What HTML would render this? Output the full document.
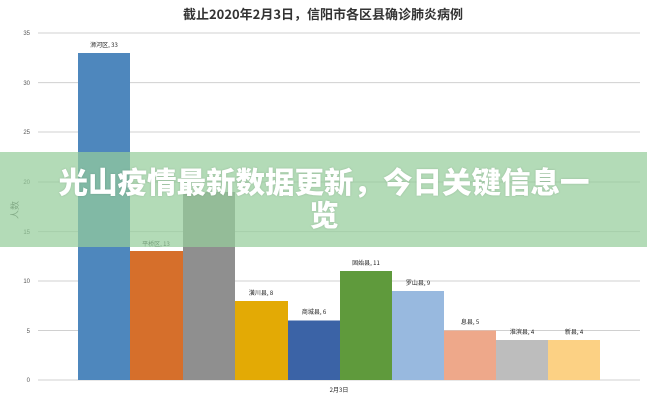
<!DOCTYPE html>
<html><head><meta charset="utf-8"><style>
body{margin:0;width:647px;height:400px;overflow:hidden;background:#fff;font-family:"Liberation Sans","Noto Sans CJK SC",sans-serif;}
.ban{position:absolute;left:0;top:152px;width:647px;height:95px;background:rgba(150,205,155,0.72);}
.bt{position:absolute;left:50px;top:165px;width:548px;text-align:center;color:#fff;font-weight:900;font-size:29.5px;line-height:33px;font-family:"Noto Sans CJK SC",sans-serif;text-shadow:0 0 2px rgba(0,0,0,0.15);}
</style></head><body>
<svg width="647" height="400" style="position:absolute;left:0;top:0" font-family="Liberation Sans,Noto Sans CJK SC,sans-serif">
<text x="323" y="19" text-anchor="middle" font-size="13" font-weight="bold" fill="#333" font-family="Noto Sans CJK SC,sans-serif">截止2020年2月3日，信阳市各区县确诊肺炎病例</text>
<g stroke="#d0d0d0" stroke-width="1">
<line x1="38" x2="640" y1="33" y2="33"/><line x1="38" x2="640" y1="82.6" y2="82.6"/><line x1="38" x2="640" y1="132" y2="132"/><line x1="38" x2="640" y1="182" y2="182"/><line x1="38" x2="640" y1="231.6" y2="231.6"/><line x1="38" x2="640" y1="281" y2="281"/><line x1="38" x2="640" y1="330.5" y2="330.5"/><line x1="38" x2="640" y1="380" y2="380"/>
</g>
<g font-size="6" fill="#555" text-anchor="end">
<text x="30" y="35">35</text><text x="30" y="85">30</text><text x="30" y="134">25</text><text x="30" y="184">20</text><text x="30" y="234">15</text><text x="30" y="283">10</text><text x="30" y="333">5</text><text x="30" y="382">0</text>
</g>
<text x="18" y="210" font-size="9" fill="#555" transform="rotate(-90 18 210)" text-anchor="middle">人数</text>
<rect x="78" y="53" width="52" height="327" fill="#4e87bd"/>
<rect x="130" y="251" width="53" height="129" fill="#d66f2b"/>
<rect x="183" y="192" width="52" height="188" fill="#8f8f8f"/>
<rect x="235" y="301" width="53" height="79" fill="#e3aa05"/>
<rect x="288" y="320.5" width="52" height="59.5" fill="#3b63a6"/>
<rect x="340" y="271" width="52" height="109" fill="#5f9a3c"/>
<rect x="392" y="291" width="52" height="89" fill="#98b9df"/>
<rect x="444" y="330.5" width="52" height="49.5" fill="#eea88a"/>
<rect x="496" y="340" width="52" height="40" fill="#bdbdbd"/>
<rect x="548" y="340" width="52" height="40" fill="#fcd184"/>
<g font-size="6" fill="#222" text-anchor="middle" font-family="Noto Sans CJK SC,sans-serif">
<text x="104" y="47">浉河区, 33</text><text x="156" y="246">平桥区, 13</text><text x="261" y="295">潢川县, 8</text><text x="314" y="314">商城县, 6</text><text x="366" y="265">固始县, 11</text><text x="418" y="285">罗山县, 9</text><text x="470" y="324">息县, 5</text><text x="522" y="334">淮滨县, 4</text><text x="574" y="334">新县, 4</text>
<text x="339" y="392">2月3日</text>
</g>
</svg>
<div class="ban"></div>
<div class="bt">光山疫情最新数据更新，今日关键信息一览</div>
</body></html>
